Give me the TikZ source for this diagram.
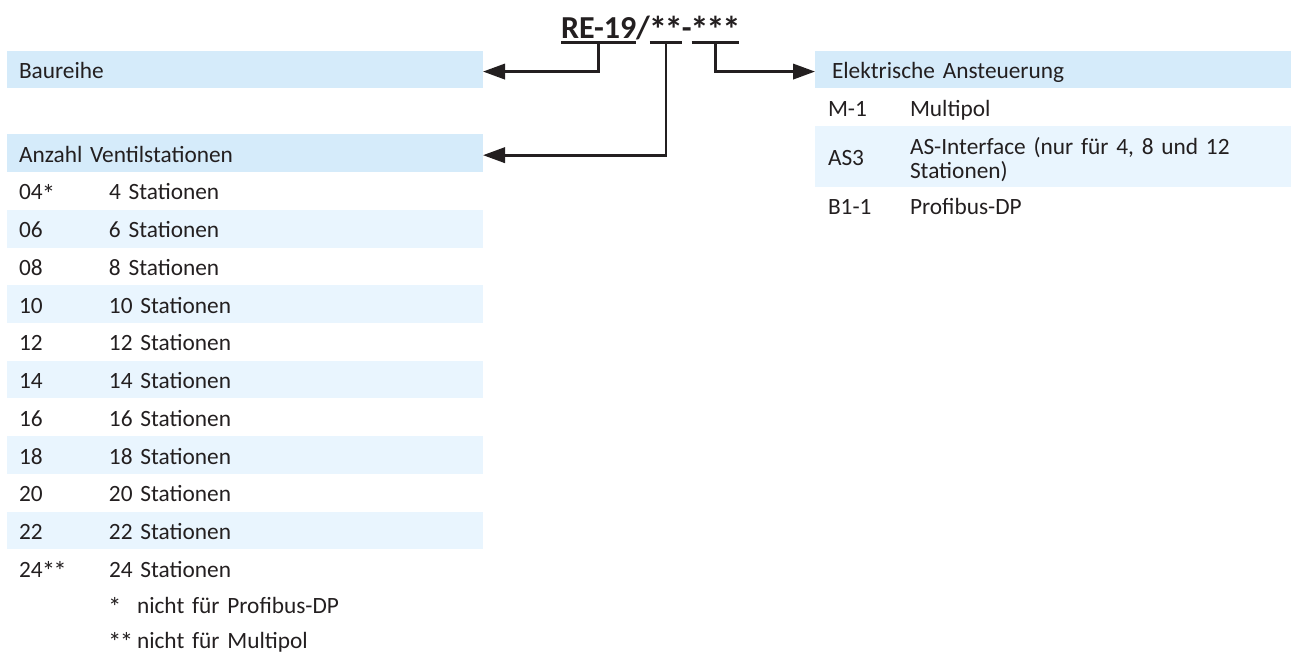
\documentclass[tikz,border=0pt]{standalone}
\usepackage{fontspec}
\setmainfont{Carlito}
\usepackage{graphicx}
\usepackage{tikz}
\usetikzlibrary{arrows.meta, positioning, calc}
\definecolor{headblue}{RGB}{213,235,250}
\definecolor{rowblue}{RGB}{233,245,254}
\definecolor{inkgray}{RGB}{35,31,32}
\tikzstyle{arrow} = [line width=2pt, draw=inkgray, -{Triangle[length=16.5pt,width=11.5pt]}]
\newcommand{\bigstar}{\makebox[\fontcharwd\font`\*][c]{\raisebox{-0.3ex}{\scalebox{1.15}{*}}}}

\begin{document}
\begin{tikzpicture}[x=0.75pt, y=-0.75pt,
    every node/.style={text=inkgray, font=\fontsize{17.5pt}{18pt}\selectfont},
    headbar/.style={rectangle, fill=headblue, anchor=north west, minimum height=28.3pt, inner ysep=0pt, inner xsep=9pt, text width=339pt, align=left, text height=15pt, text depth=1.5pt, outer sep=0pt},
    rowbar/.style={headbar, fill=none},
    shaded/.style={fill=rowblue},
    rightrow/.style={rowbar, inner xsep=9.75pt, text width=337.5pt},
    titlepart/.style={font=\fontsize{24pt}{26pt}\selectfont\bfseries, inner sep=0pt, outer sep=0pt},
    underline/.style={line width=1.8pt, draw=inkgray},
    node distance=0pt
  ]
    \useasboundingbox (0,0) rectangle (1295,657);

    % type code
    \node[titlepart, anchor=base west] (series) at (561,38) {RE-19};
    \node[titlepart, base right=0pt of series] (slash) {/};
    \node[titlepart, base right=0pt of slash] (stations) {\bigstar\bigstar};
    \node[titlepart, base right=0pt of stations] (dash) {-};
    \node[titlepart, base right=0pt of dash] (control) {\bigstar\bigstar\bigstar};
    \draw[underline] ([yshift=-3.5pt]series.base west) -- ([yshift=-3.5pt]series.base east);
    \draw[underline] ([yshift=-3.5pt]stations.base west) -- ([yshift=-3.5pt]stations.base east);
    \draw[underline] ([yshift=-3.5pt]control.base west) -- ([yshift=-3.5pt]control.base east);
    \coordinate (seriesfoot) at ([yshift=-3.5pt]series.base);
    \coordinate (stationsfoot) at ([yshift=-3.5pt]stations.base);
    \coordinate (controlfoot) at ([yshift=-3.5pt]control.base);

    % Baureihe
    \node[headbar] (baureihe) at (7,50.7) {Baureihe};

    % Anzahl Ventilstationen
    \node[headbar] (anzahl) at (7,134.3) {Anzahl Ventilstationen};
    \node[rowbar, below=of anzahl] (s04) {\makebox[67.5pt][l]{04\bigstar}4 Stationen};
    \node[rowbar, shaded, below=of s04] (s06) {\makebox[67.5pt][l]{06}6 Stationen};
    \node[rowbar, below=of s06] (s08) {\makebox[67.5pt][l]{08}8 Stationen};
    \node[rowbar, shaded, below=of s08] (s10) {\makebox[67.5pt][l]{10}10 Stationen};
    \node[rowbar, below=of s10] (s12) {\makebox[67.5pt][l]{12}12 Stationen};
    \node[rowbar, shaded, below=of s12] (s14) {\makebox[67.5pt][l]{14}14 Stationen};
    \node[rowbar, below=of s14] (s16) {\makebox[67.5pt][l]{16}16 Stationen};
    \node[rowbar, shaded, below=of s16] (s18) {\makebox[67.5pt][l]{18}18 Stationen};
    \node[rowbar, below=of s18] (s20) {\makebox[67.5pt][l]{20}20 Stationen};
    \node[rowbar, shaded, below=of s20] (s22) {\makebox[67.5pt][l]{22}22 Stationen};
    \node[rowbar, below=of s22] (s24) {\makebox[67.5pt][l]{24\bigstar\bigstar}24 Stationen};
    \node[rowbar, minimum height=26pt, below=of s24] (note1) {\makebox[67.5pt][l]{}\makebox[21pt][l]{\bigstar}nicht für Profibus-DP};
    \node[rowbar, minimum height=26pt, below=of note1] (note2) {\makebox[67.5pt][l]{}\makebox[21pt][l]{\bigstar\bigstar}nicht für Multipol};

    % Elektrische Ansteuerung
    \node[headbar, inner xsep=12.75pt, text width=331.5pt] (ansteuerung) at (815,50.7) {Elektrische Ansteuerung};
    \node[rightrow, below=of ansteuerung] (m1) {\makebox[61.5pt][l]{M-1}Multipol};
    \node[rightrow, shaded, minimum height=45.5pt, below=of m1] (as3) {\makebox[61.5pt][l]{AS3}\parbox[c]{270pt}{AS-Interface (nur für 4, 8 und 12\\Stationen)}};
    \node[rightrow, below=of as3] (b11) {\makebox[61.5pt][l]{B1-1}Profibus-DP};

    \draw[arrow] (seriesfoot) |- ([yshift=-1.5pt]baureihe.east);
    \draw[arrow] (stationsfoot) |- ([yshift=-1.5pt]anzahl.east);
    \draw[arrow] (controlfoot) |- ([yshift=-1.5pt]ansteuerung.west);
\end{tikzpicture}
\end{document}
